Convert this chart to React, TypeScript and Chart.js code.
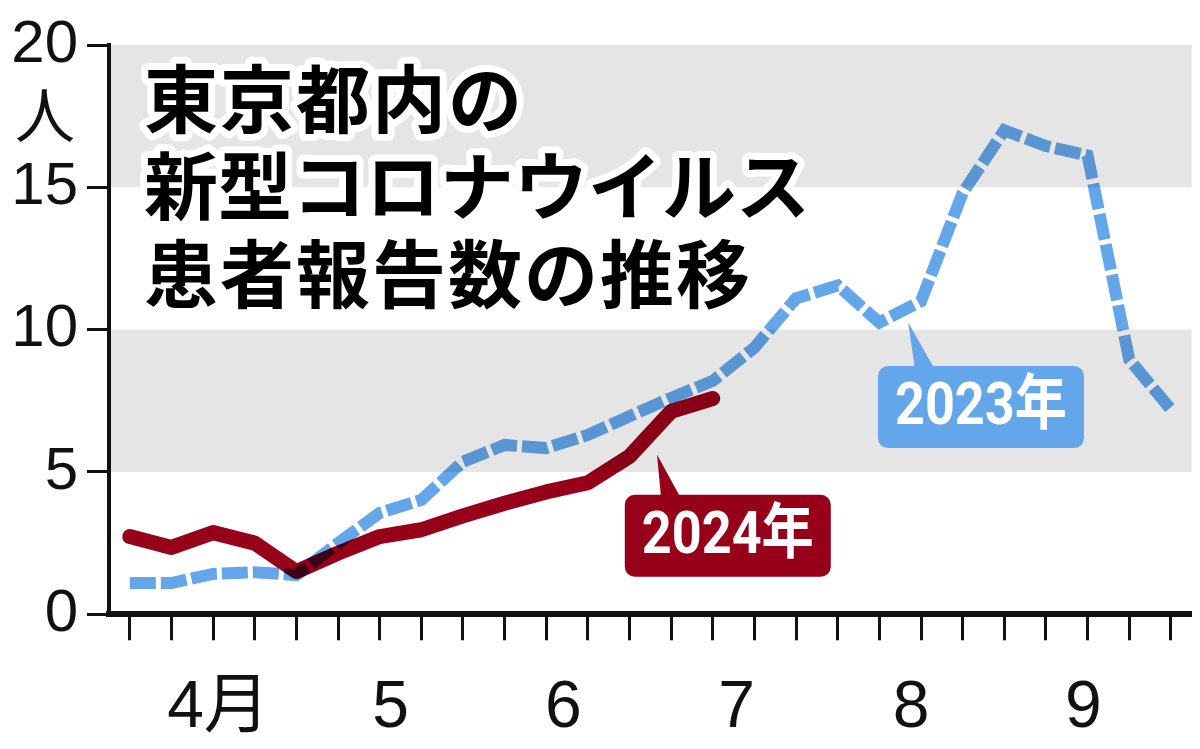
import React, { useEffect, useRef } from 'react';
import { Chart, registerables } from 'chart.js';

Chart.register(...registerables);

// ---- data ----
const weekIndex = [0, 1, 2, 3, 4, 5, 6, 7, 8, 9, 10, 11, 12, 13, 14, 15, 16, 17, 18, 19, 20, 21, 22, 23, 24, 25];
const patients2023 = [1.1, 1.1, 1.42, 1.48, 1.38, 2.5, 3.56, 4.02, 5.36, 5.95, 5.84, 6.3, 6.96, 7.6, 8.2, 9.37, 11.1, 11.55, 10.25, 11.0, 14.8, 17.0, 16.45, 16.12, 8.95, 7.2];
const patients2024 = [2.73, 2.35, 2.87, 2.5, 1.5, 2.15, 2.73, 2.97, 3.46, 3.9, 4.3, 4.62, 5.55, 7.13, 7.58];
const monthLabels = ['4月', '5', '6', '7', '8', '9'];
const monthLabelPositions = [2.13, 6.26, 10.41, 14.57, 18.76, 22.9];
const yTicks = [0, 5, 10, 15, 20];
const yUnit = '人';
const titleLines = ['東京都内の', '新型コロナウイルス', '患者報告数の推移'];
const bandRanges: [number, number][] = [[5, 10], [15, 20]];

const BLUE = '#63a6ea';
const RED = '#960019';

type Callout = {
  text: string; color: string;
  cx: number; cy: number; tipX: number; tipY: number; baseX0: number; baseX1: number;
};
const callouts: Callout[] = [
  { text: '2024年', color: RED, cx: 14.36, cy: 2.76, tipX: 12.66, tipY: 5.61, baseX0: 12.76, baseX1: 13.24 },
  { text: '2023年', color: BLUE, cx: 20.44, cy: 7.28, tipX: 18.69, tipY: 10.26, baseX0: 18.86, baseX1: 19.34 },
];

const bandsPlugin = {
  id: 'bands',
  beforeDraw(chart: any) {
    const { ctx, chartArea, scales } = chart;
    const y = scales.y;
    ctx.save();
    ctx.fillStyle = '#e5e5e5';
    for (const [a, b] of bandRanges) {
      const top = y.getPixelForValue(b);
      const bot = y.getPixelForValue(a);
      ctx.fillRect(chartArea.left, top, chartArea.right - chartArea.left, bot - top);
    }
    ctx.restore();
  },
};

const multiplyPlugin = {
  id: 'multiply',
  beforeDatasetsDraw(chart: any) {
    chart.ctx.save();
    chart.ctx.globalCompositeOperation = 'multiply';
  },
  afterDatasetsDraw(chart: any) {
    chart.ctx.restore();
  },
};

const overlayPlugin = {
  id: 'overlay',
  afterDraw(chart: any) {
    const { ctx, chartArea, scales } = chart;
    const x = scales.x;
    const y = scales.y;
    ctx.save();
    // unit label under 20
    ctx.font = '60px "Noto Sans CJK JP"';
    ctx.fillStyle = '#111';
    ctx.textAlign = 'center';
    ctx.textBaseline = 'middle';
    ctx.fillText(yUnit, chartArea.left - 64, y.getPixelForValue(20) + 70);

    // callouts
    for (const c of callouts) {
      const w = 206, h = 82;
      const cx = x.getPixelForValue(c.cx);
      const cy = y.getPixelForValue(c.cy);
      ctx.fillStyle = c.color;
      ctx.beginPath();
      ctx.roundRect(cx - w / 2, cy - h / 2, w, h, 10);
      ctx.fill();
      ctx.beginPath();
      ctx.moveTo(x.getPixelForValue(c.tipX), y.getPixelForValue(c.tipY));
      ctx.lineTo(x.getPixelForValue(c.baseX0), cy - h / 2 + 4);
      ctx.lineTo(x.getPixelForValue(c.baseX1), cy - h / 2 + 4);
      ctx.closePath();
      ctx.fill();
      ctx.fillStyle = '#ffffff';
      ctx.font = 'bold 60px Roboto, "Noto Sans CJK JP"';
      ctx.textAlign = 'center';
      ctx.textBaseline = 'middle';
      ctx.fillText(c.text, cx, cy + 2, 172);
    }

    // title
    ctx.font = 'bold 74px "Noto Sans CJK JP"';
    ctx.textAlign = 'left';
    ctx.textBaseline = 'middle';
    ctx.lineJoin = 'round';
    ctx.lineWidth = 14;
    ctx.strokeStyle = '#ffffff';
    ctx.fillStyle = '#000000';
    const lineYs = [99, 186, 274];
    const spacings = ['2px', '0px', '2px'];
    titleLines.forEach((t, i) => {
      (ctx as any).letterSpacing = spacings[i];
      ctx.strokeText(t, 144, lineYs[i]);
    });
    titleLines.forEach((t, i) => {
      (ctx as any).letterSpacing = spacings[i];
      ctx.fillText(t, 144, lineYs[i]);
    });
    ctx.restore();
  },
};

export default function App() {
  const canvasRef = useRef<HTMLCanvasElement | null>(null);

  useEffect(() => {
    document.body.style.margin = '0';
    const canvas = canvasRef.current;
    if (!canvas) return;
    const weekSet = new Set(weekIndex);
    const chart = new Chart(canvas, {
      type: 'line',
      data: {
        datasets: [
          {
            label: '2024年',
            data: patients2024.map((v, i) => ({ x: weekIndex[i], y: v })),
            borderColor: RED,
            borderWidth: 15,
            borderCapStyle: 'round',
            borderJoinStyle: 'round',
            pointRadius: 0,
            tension: 0,
            fill: false,
          },
          {
            label: '2023年',
            data: patients2023.map((v, i) => ({ x: weekIndex[i], y: v })),
            borderColor: BLUE,
            borderWidth: 12,
            borderDash: [26, 5],
            borderCapStyle: 'butt',
            borderJoinStyle: 'miter',
            pointRadius: 0,
            tension: 0,
            fill: false,
          },
        ],
      },
      options: {
        animation: false,
        responsive: false,
        devicePixelRatio: 1,
        layout: { padding: { top: 44.5, right: 8, left: 0, bottom: 0 } },
        plugins: {
          legend: { display: false },
          tooltip: { enabled: false },
          title: { display: false },
        },
        scales: {
          x: {
            type: 'linear',
            min: -0.5,
            max: 25.5,
            afterBuildTicks: (scale: any) => {
              const all = [...weekIndex, ...monthLabelPositions].sort((a, b) => a - b);
              scale.ticks = all.map((v) => ({ value: v }));
            },
            afterFit: (scale: any) => {
              scale.height = 134.7;
            },
            ticks: {
              autoSkip: false,
              maxRotation: 0,
              minRotation: 0,
              padding: 29,
              color: '#111',
              font: { family: '"Liberation Sans", "Noto Sans CJK JP"', size: 66 },
              callback: (value: any) => {
                const idx = monthLabelPositions.indexOf(Number(value));
                return idx >= 0 ? monthLabels[idx] : '';
              },
            },
            grid: {
              display: true,
              drawOnChartArea: false,
              drawTicks: true,
              tickLength: 26,
              tickWidth: 3,
              tickColor: (ctx: any) => (ctx.tick && weekSet.has(ctx.tick.value) ? '#111' : 'rgba(0,0,0,0)'),
            },
            border: { display: true, color: '#111', width: 6 },
          },
          y: {
            type: 'linear',
            min: 0,
            max: 20,
            afterBuildTicks: (scale: any) => {
              scale.ticks = yTicks.map((v) => ({ value: v }));
            },
            afterFit: (scale: any) => {
              scale.width = 109;
            },
            ticks: {
              padding: 9,
              color: '#111',
              font: { family: '"Liberation Sans"', size: 60 },
            },
            grid: {
              display: true,
              drawOnChartArea: false,
              drawTicks: true,
              tickLength: 22,
              tickWidth: 3,
              tickColor: '#111',
            },
            border: { display: true, color: '#111', width: 4 },
          },
        },
      },
      plugins: [bandsPlugin, multiplyPlugin, overlayPlugin],
    } as any);
    return () => chart.destroy();
  }, []);

  return (
    <div style={{ width: 1200, height: 749, background: '#ffffff' }}>
      <canvas ref={canvasRef} width={1200} height={749} style={{ display: 'block' }} />
    </div>
  );
}
